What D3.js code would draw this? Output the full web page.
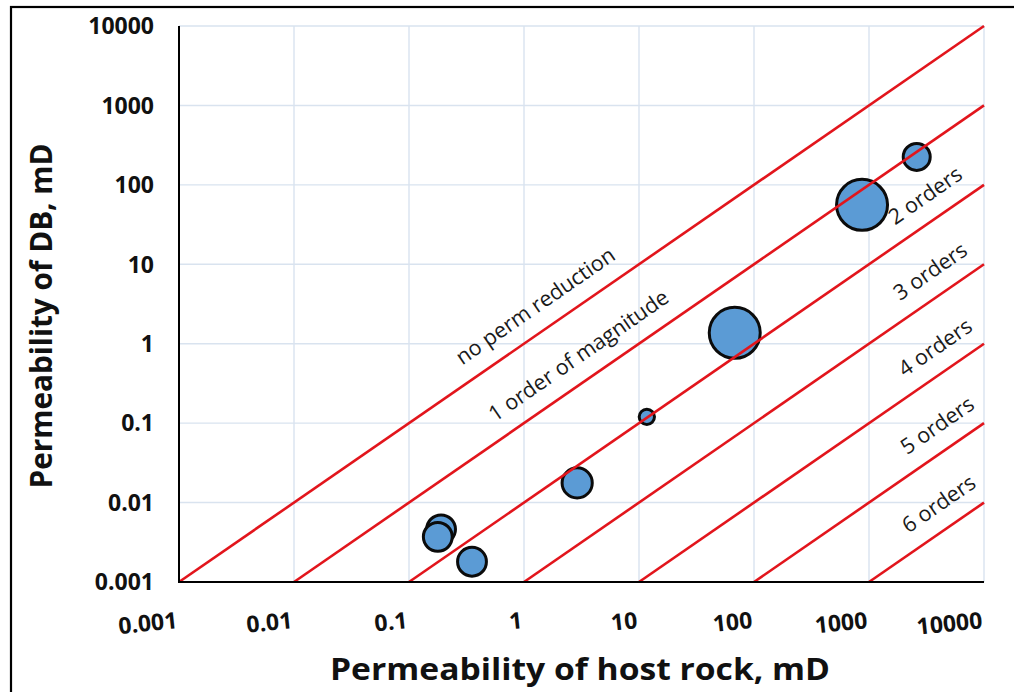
<!DOCTYPE html>
<html><head><meta charset="utf-8">
<script src="https://cdn.jsdelivr.net/npm/d3@7"></script>
<style>body{margin:0;background:#fff}</style>
</head><body><svg id="c" width="1014" height="692"></svg>
<script>
// ---- data ----
const hostPerm = [2600, 870, 68, 11.7, 2.9, 0.19, 0.178, 0.353];
const dbPerm   = [225, 56, 1.37, 0.12, 0.0177, 0.0046, 0.0037, 0.0018];
const bubbleSize = [28, 100, 100, 9, 35, 32, 32, 32];
const tickValues = [0.001, 0.01, 0.1, 1, 10, 100, 1000, 10000];
const tickLabels = ["0.001", "0.01", "0.1", "1", "10", "100", "1000", "10000"];
const orders = [0, 1, 2, 3, 4, 5, 6];
const lineLabels = ["no perm reduction", "1 order of magnitude", "2 orders", "3 orders", "4 orders", "5 orders", "6 orders"];
const lineLabelStart = [0.29, 0.56, 1680, 1860, 2050, 2140, 2200];
const xTitle = "Permeability of host rock, mD";
const yTitle = "Permeability of DB, mD";

// ---- layout ----
const svg = d3.select("#c");
const L = 179, R = 984, T = 26, B = 582;
const x = d3.scaleLog().domain([0.001, 10000]).range([L, R]);
const y = d3.scaleLog().domain([0.001, 10000]).range([B, T]);
const r = d3.scaleSqrt().domain([0, 100]).range([0, 25.5]);
const red = "#e2151c";
const FONT = "'Open Sans', 'Liberation Sans', sans-serif";

// outer frame
svg.append("rect").attr("x", 11).attr("y", 7).attr("width", 1100).attr("height", 800)
  .attr("fill", "none").attr("stroke", "#000").attr("stroke-width", 2.2);

// gridlines
const grid = svg.append("g");
grid.selectAll("line.v").data(tickValues).join("line")
  .attr("x1", d => x(d)).attr("x2", d => x(d)).attr("y1", T).attr("y2", B)
  .attr("stroke", "#d9e3ef").attr("stroke-width", 1.4);
grid.selectAll("line.h").data(tickValues).join("line")
  .attr("y1", d => y(d)).attr("y2", d => y(d)).attr("x1", L).attr("x2", R)
  .attr("stroke", "#d9e3ef").attr("stroke-width", 1.4);

// bubbles
svg.append("g").selectAll("circle").data(hostPerm.map((h, i) => ({h, d: dbPerm[i], s: bubbleSize[i]})))
  .join("circle")
  .attr("cx", d => x(d.h)).attr("cy", d => y(d.d)).attr("r", d => r(d.s))
  .attr("fill", "#5b9bd5").attr("stroke", "#0b0b0b").attr("stroke-width", 3);

// reduction lines
const [d0, d1] = x.domain();
svg.append("g").selectAll("line").data(orders).join("line")
  .attr("x1", k => x(d0 * Math.pow(10, k))).attr("y1", y(d0))
  .attr("x2", x(d1)).attr("y2", k => y(d1 / Math.pow(10, k)))
  .attr("stroke", red).attr("stroke-width", 2.6);

// axes lines
svg.append("line").attr("x1", L).attr("x2", L).attr("y1", T).attr("y2", B + 1).attr("stroke", "#000").attr("stroke-width", 2);
svg.append("line").attr("x1", L).attr("x2", R).attr("y1", B).attr("y2", B).attr("stroke", "#000").attr("stroke-width", 2);

// line labels
const ang = Math.atan2(y(10) - y(1), x(10) - x(1)) * 180 / Math.PI;
svg.append("g").selectAll("text").data(orders).join("text")
  .attr("transform", k => {
    const xv = lineLabelStart[k];
    return `translate(${x(xv)},${y(xv / Math.pow(10, k)) - 21}) rotate(${ang})`;
  })
  .attr("font-family", FONT).attr("font-size", 21.5).attr("fill", "#1a1a1a")
  .text(k => lineLabels[k]);

// y tick labels
svg.append("g").selectAll("text").data(tickValues).join("text")
  .attr("x", 154).attr("y", d => y(d)).attr("dy", "0.36em")
  .attr("text-anchor", "end").attr("font-family", FONT).attr("font-weight", 700)
  .attr("font-size", 23).attr("fill", "#111")
  .text((d, i) => tickLabels[i]);

// x tick labels (slightly tilted)
svg.append("g").selectAll("text").data(tickValues).join("text")
  .attr("transform", d => `translate(${x(d) - 1},${628}) rotate(-6)`)
  .attr("text-anchor", "end").attr("font-family", FONT).attr("font-weight", 700)
  .attr("font-size", 23).attr("fill", "#111")
  .text((d, i) => tickLabels[i]);

// axis titles
svg.append("text").attr("x", 580).attr("y", 680).attr("text-anchor", "middle")
  .attr("font-family", FONT).attr("font-weight", 700).attr("font-size", 30).attr("fill", "#111")
  .attr("textLength", 500).attr("lengthAdjust", "spacingAndGlyphs")
  .text(xTitle);
svg.append("text").attr("transform", "translate(52,316) rotate(-90)").attr("text-anchor", "middle")
  .attr("font-family", FONT).attr("font-weight", 700).attr("font-size", 30).attr("fill", "#111")
  .attr("textLength", 345).attr("lengthAdjust", "spacingAndGlyphs")
  .text(yTitle);
</script></body></html>
